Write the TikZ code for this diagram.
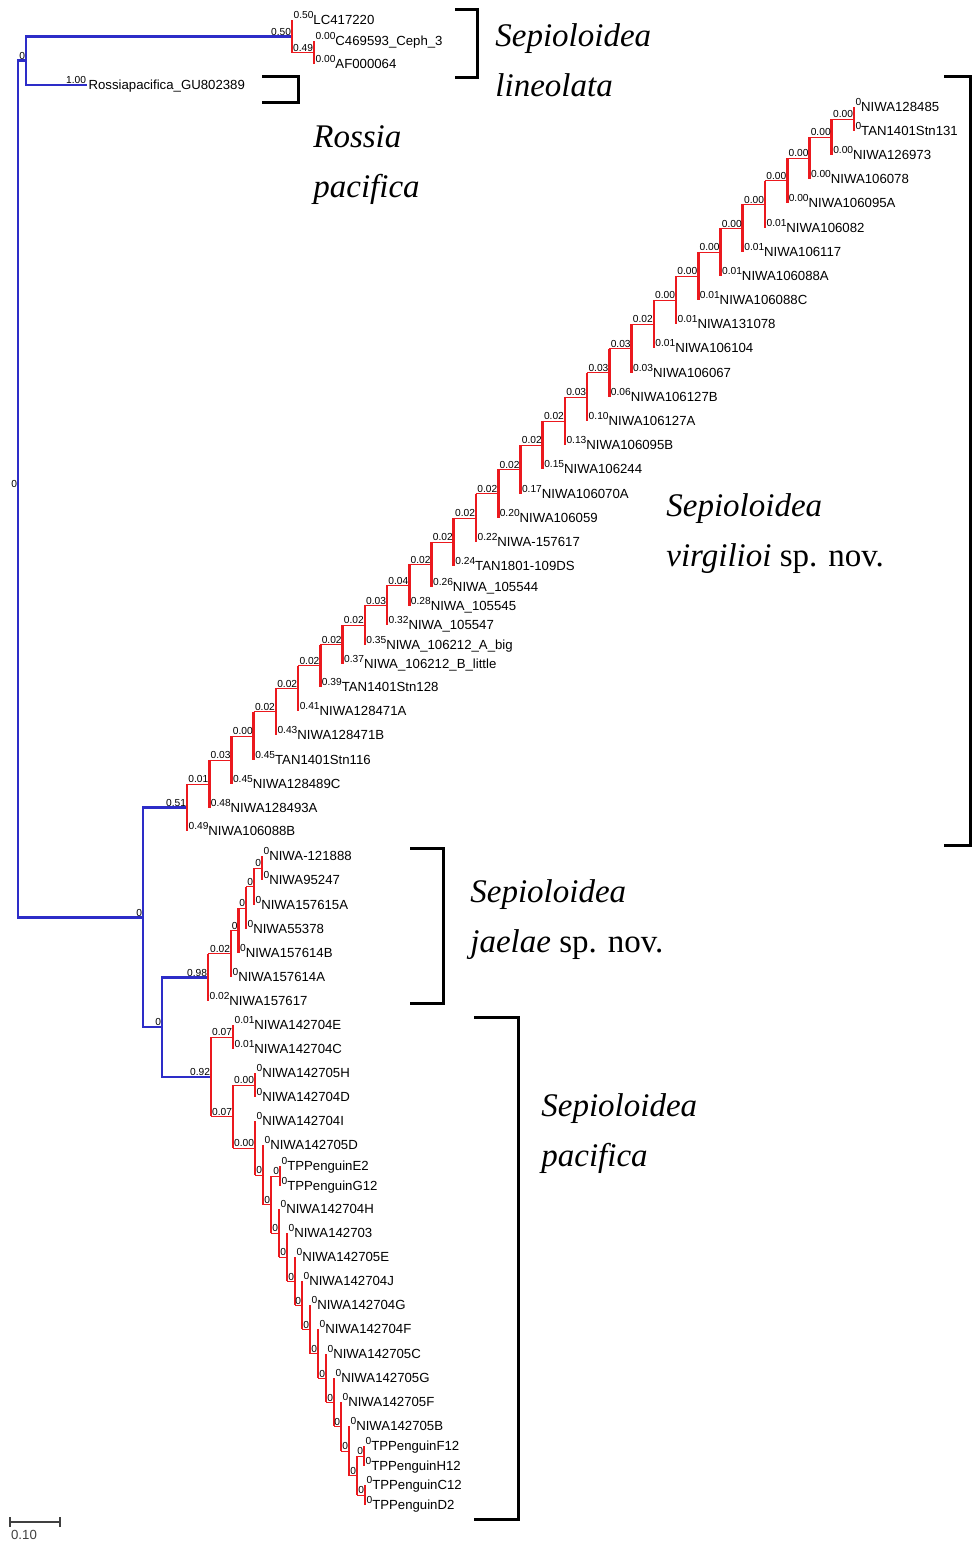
\documentclass[tikz,border=0pt]{standalone}
\usepackage{fontspec}
\setmainfont{Liberation Serif}
\newfontfamily\sansf{Liberation Sans}
\usetikzlibrary{calc}

\pgfdeclarelayer{background}
\pgfsetlayers{background,main}

\definecolor{treeblue}{RGB}{45,45,200}
\definecolor{treered}{RGB}{235,25,30}

\newcommand{\tipfont}{\sansf\fontsize{6.6}{7}\selectfont}
\newcommand{\lblfont}{\sansf\fontsize{5.1}{6}\selectfont}
\newcommand{\spfont}{\fontsize{16.5}{20}\selectfont\itshape}
\newcommand{\tipnum}[1]{\raisebox{3.2pt}{\lblfont #1}}

\tikzset{
  blu/.style={draw=treeblue, line width=1.2pt},
  rd/.style={draw=treered, line width=1.3pt},
  rdh/.style={draw=treered, line width=0.3pt},
  brk/.style={line width=1.5pt},
  scalebar/.style={draw=darkgray, line width=0.8pt},
  blab/.style={font=\lblfont, anchor=south east, inner sep=0.3pt},
  tiplab/.style={font=\tipfont, anchor=base west, inner sep=0pt, xshift=0.6pt, yshift=-2.3pt},
  spname/.style={font=\spfont, anchor=base west, inner sep=0pt}
}

% tip: coordinate, number and name
\newcommand{\tipat}[4]{\coordinate (#1) at (#2); \node[tiplab] (#1l) at (#1) {\tipnum{#3}#4};}
% inner node and its label
\newcommand{\innode}[3]{\coordinate (#1) at (#2); \node[blab] (#1l) at (#1) {#3};}
% red branch: vertical of the parent, thin horizontal to the child
\newcommand{\redge}[2]{\draw[rd] (#1) -- (#1 |- #2); \draw[rdh] (#1 |- #2) -- (#2);}

\begin{document}
\begin{tikzpicture}[x=0.5pt,y=-0.5pt]
\useasboundingbox (0,0) rectangle (973,1543);

% Root and outgroups
\innode{root}{18,489}{0}
\innode{a}{26,60.6}{0}
\innode{b}{292,36.3}{0.50}
\innode{c}{314,52.5}{0.49}
\tipat{lc}{292,20}{0.50}{LC417220}
\tipat{cs}{314,41}{0.00}{C469593\_Ceph\_3}
\tipat{af}{314,64}{0.00}{AF000064}
\coordinate (ro) at (87,85);
\node[blab] (rol) at (ro) {1.00};
\node[tiplab] (ron) at (ro) {Rossiapacifica\_GU802389};
\innode{m1}{143,917.5}{0}
\innode{m2}{162,1027}{0}

% S. virgilioi ladder
\foreach \nm/\yy/\bl [count=\cnt] in {NIWA128485/107/0, TAN1401Stn131/131/0,
    NIWA126973/155/0.00, NIWA106078/179/0.00, NIWA106095A/203/0.00,
    NIWA106082/228/0.01, NIWA106117/252/0.01, NIWA106088A/276/0.01,
    NIWA106088C/300/0.01, NIWA131078/324/0.01, NIWA106104/348/0.01,
    NIWA106067/373/0.03, NIWA106127B/397/0.06, NIWA106127A/421/0.10,
    NIWA106095B/445/0.13, NIWA106244/469/0.15, NIWA106070A/494/0.17,
    NIWA106059/518/0.20, NIWA-157617/542/0.22, TAN1801-109DS/566/0.24,
    NIWA\_105544/587/0.26, NIWA\_105545/606/0.28, NIWA\_105547/625/0.32,
    NIWA\_106212\_A\_big/645/0.35, NIWA\_106212\_B\_little/664/0.37,
    TAN1401Stn128/687/0.39, NIWA128471A/711/0.41, NIWA128471B/735/0.43,
    TAN1401Stn116/760/0.45, NIWA128489C/784/0.45, NIWA128493A/808/0.48,
    NIWA106088B/831/0.49} {
  \pgfmathsetmacro\xx{187+22.23*min(30,32-\cnt)}
  \coordinate (vt\cnt) at (\xx,\yy);
  \node[tiplab] (vn\cnt) at (vt\cnt) {\tipnum{\bl}\nm};
}
\coordinate (v30) at (854,119);
\foreach \w [evaluate=\w as \up using int(\w+1), evaluate=\w as \tp using int(32-\w)] in {29,28,...,0}
  \path let \p1=(v\up), \p2=(vt\tp) in coordinate (v\w) at ({(187+22.23*\w)*0.5pt}, {0.5*\y1+0.5*\y2});
\node[blab] (vl0) at (v0) {0.51};
\foreach \w/\lb in {1/0.01, 2/0.03, 3/0.00, 4/0.02, 5/0.02, 6/0.02, 7/0.02, 8/0.02,
    9/0.03, 10/0.04, 11/0.02, 12/0.02, 13/0.02, 14/0.02, 15/0.02, 16/0.02, 17/0.02,
    18/0.03, 19/0.03, 20/0.03, 21/0.02, 22/0.00, 23/0.00, 24/0.00, 25/0.00, 26/0.00,
    27/0.00, 28/0.00, 29/0.00, 30/0.00}
  \node[blab] (vl\w) at (v\w) {\lb};

% S. jaelae
\innode{j0}{208,977.3}{0.98}
\innode{j1}{231,953.7}{0.02}
\innode{j2}{238.5,930.4}{0}
\innode{j3}{246,907.8}{0}
\innode{j4}{254,886.5}{0}
\innode{j5}{262,868}{0}
\tipat{ja1}{262,856}{0}{NIWA-121888}
\tipat{ja2}{262,880}{0}{NIWA95247}
\tipat{ja3}{254,905}{0}{NIWA157615A}
\tipat{ja4}{246,929}{0}{NIWA55378}
\tipat{ja5}{238.5,953}{0}{NIWA157614B}
\tipat{ja6}{231,977}{0}{NIWA157614A}
\tipat{ja7}{208,1001}{0.02}{NIWA157617}

% S. pacifica
\innode{p0}{211,1076.7}{0.92}
\innode{p1}{233,1037}{0.07}
\innode{p2}{233,1116.4}{0.07}
\innode{p3}{255,1085}{0.00}
\innode{p4}{255,1147.9}{0.00}
\innode{p5}{263,1174.8}{0}
\innode{p6}{271,1204.5}{0}
\innode{q}{280,1176}{0}
\innode{p7}{279,1233}{0}
\innode{p8}{287,1257}{0}
\innode{p9}{295,1281.1}{0}
\innode{p10}{302,1305.1}{0}
\innode{p11}{310,1329.3}{0}
\innode{p12}{318,1353.5}{0}
\innode{p13}{326,1378.1}{0}
\innode{p14}{334,1402.2}{0}
\innode{p15}{341,1426.4}{0}
\innode{p16}{349,1450.8}{0}
\innode{r}{357,1475.5}{0}
\innode{s}{364,1456}{0}
\innode{u}{365,1495}{0}
\tipat{pa1}{233,1025}{0.01}{NIWA142704E}
\tipat{pa2}{233,1049}{0.01}{NIWA142704C}
\tipat{pa3}{255,1073}{0}{NIWA142705H}
\tipat{pa4}{255,1097}{0}{NIWA142704D}
\tipat{pa5}{255,1121}{0}{NIWA142704I}
\tipat{pa6}{263,1145}{0}{NIWA142705D}
\tipat{pa7}{280,1166}{0}{TPPenguinE2}
\tipat{pa8}{280,1186}{0}{TPPenguinG12}
\tipat{pa9}{279,1209}{0}{NIWA142704H}
\tipat{pa10}{287,1233}{0}{NIWA142703}
\tipat{pa11}{295,1257}{0}{NIWA142705E}
\tipat{pa12}{302,1281}{0}{NIWA142704J}
\tipat{pa13}{310,1305}{0}{NIWA142704G}
\tipat{pa14}{318,1329}{0}{NIWA142704F}
\tipat{pa15}{326,1354}{0}{NIWA142705C}
\tipat{pa16}{334,1378}{0}{NIWA142705G}
\tipat{pa17}{341,1402}{0}{NIWA142705F}
\tipat{pa18}{349,1426}{0}{NIWA142705B}
\tipat{pa19}{364,1446}{0}{TPPenguinF12}
\tipat{pa20}{364,1466}{0}{TPPenguinH12}
\tipat{pa21}{365,1485}{0}{TPPenguinC12}
\tipat{pa22}{365,1505}{0}{TPPenguinD2}

% Branches
\begin{pgfonlayer}{background}
  \draw[blu] (root) |- (a);
  \draw[blu] (root) |- (m1);
  \draw[blu] (a) |- (b);
  \draw[blu] (a) |- (ro);
  \draw[blu] (m1) |- (v0);
  \draw[blu] (m1) |- (m2);
  \draw[blu] (m2) |- (j0);
  \draw[blu] (m2) |- (p0);

  \redge{b}{lc} \redge{b}{c}
  \redge{c}{cs} \redge{c}{af}

  \foreach \w [evaluate=\w as \up using int(\w+1), evaluate=\w as \tp using int(32-\w)] in {0,...,29} {
    \draw[rd] (v\w |- v\up) -- (v\w |- vt\tp);
    \draw[rdh] (v\w |- v\up) -- (v\up);
  }
  \draw[rd] (vt1) -- (vt2);

  \redge{j0}{j1} \redge{j0}{ja7}
  \redge{j1}{j2} \redge{j1}{ja6}
  \redge{j2}{j3} \redge{j2}{ja5}
  \redge{j3}{j4} \redge{j3}{ja4}
  \redge{j4}{j5} \redge{j4}{ja3}
  \redge{j5}{ja1} \redge{j5}{ja2}

  \redge{p0}{p1} \redge{p0}{p2}
  \redge{p1}{pa1} \redge{p1}{pa2}
  \redge{p2}{p3} \redge{p2}{p4}
  \redge{p3}{pa3} \redge{p3}{pa4}
  \redge{p4}{pa5} \redge{p4}{p5}
  \redge{p5}{pa6} \redge{p5}{p6}
  \redge{p6}{q} \redge{p6}{p7}
  \redge{q}{pa7} \redge{q}{pa8}
  \foreach \w [evaluate=\w as \up using int(\w+1), evaluate=\w as \tp using int(\w+2)] in {7,...,15} {
    \redge{p\w}{pa\tp} \redge{p\w}{p\up}
  }
  \redge{p16}{pa18} \redge{p16}{r}
  \redge{r}{s} \redge{r}{u}
  \redge{s}{pa19} \redge{s}{pa20}
  \redge{u}{pa21} \redge{u}{pa22}
\end{pgfonlayer}

% Brackets
\draw[brk] (455,9) -- (477,9) -- (477,77) -- (455,77);
\draw[brk] (262,76) -- (298,76) -- (298,102) -- (262,102);
\draw[brk] (944,76) -- (970,76) -- (970,845) -- (944,845);
\draw[brk] (410,848) -- (443,848) -- (443,1003) -- (410,1003);
\draw[brk] (474,1017) -- (518,1017) -- (518,1519) -- (474,1519);

% Species names
\node[spname] (sl1) at (495,46) {Sepioloidea};
\node[spname] (sl2) at (495,96) {lineolata};
\node[spname] (rp1) at (313,147) {Rossia};
\node[spname] (rp2) at (313,197) {pacifica};
\node[spname] (sv1) at (666,516) {Sepioloidea};
\node[spname] (sv2) at (666,566) {virgilioi \upshape sp. nov.};
\node[spname] (sj1) at (470,902) {Sepioloidea};
\node[spname] (sj2) at (470,952) {jaelae \upshape sp. nov.};
\node[spname] (sp1) at (541,1116) {Sepioloidea};
\node[spname] (sp2) at (541,1166) {pacifica};

% Scale bar
\coordinate (sb1) at (10,1522);
\coordinate (sb2) at (60,1522);
\draw[scalebar] (sb1) -- (sb2);
\draw[scalebar] ([yshift=2.5pt]sb1) -- ([yshift=-2.5pt]sb1);
\draw[scalebar] ([yshift=2.5pt]sb2) -- ([yshift=-2.5pt]sb2);
\node[font=\tipfont, text=darkgray, inner sep=0pt] (sbl) at (24,1535) {0.10};

\end{tikzpicture}
\end{document}
